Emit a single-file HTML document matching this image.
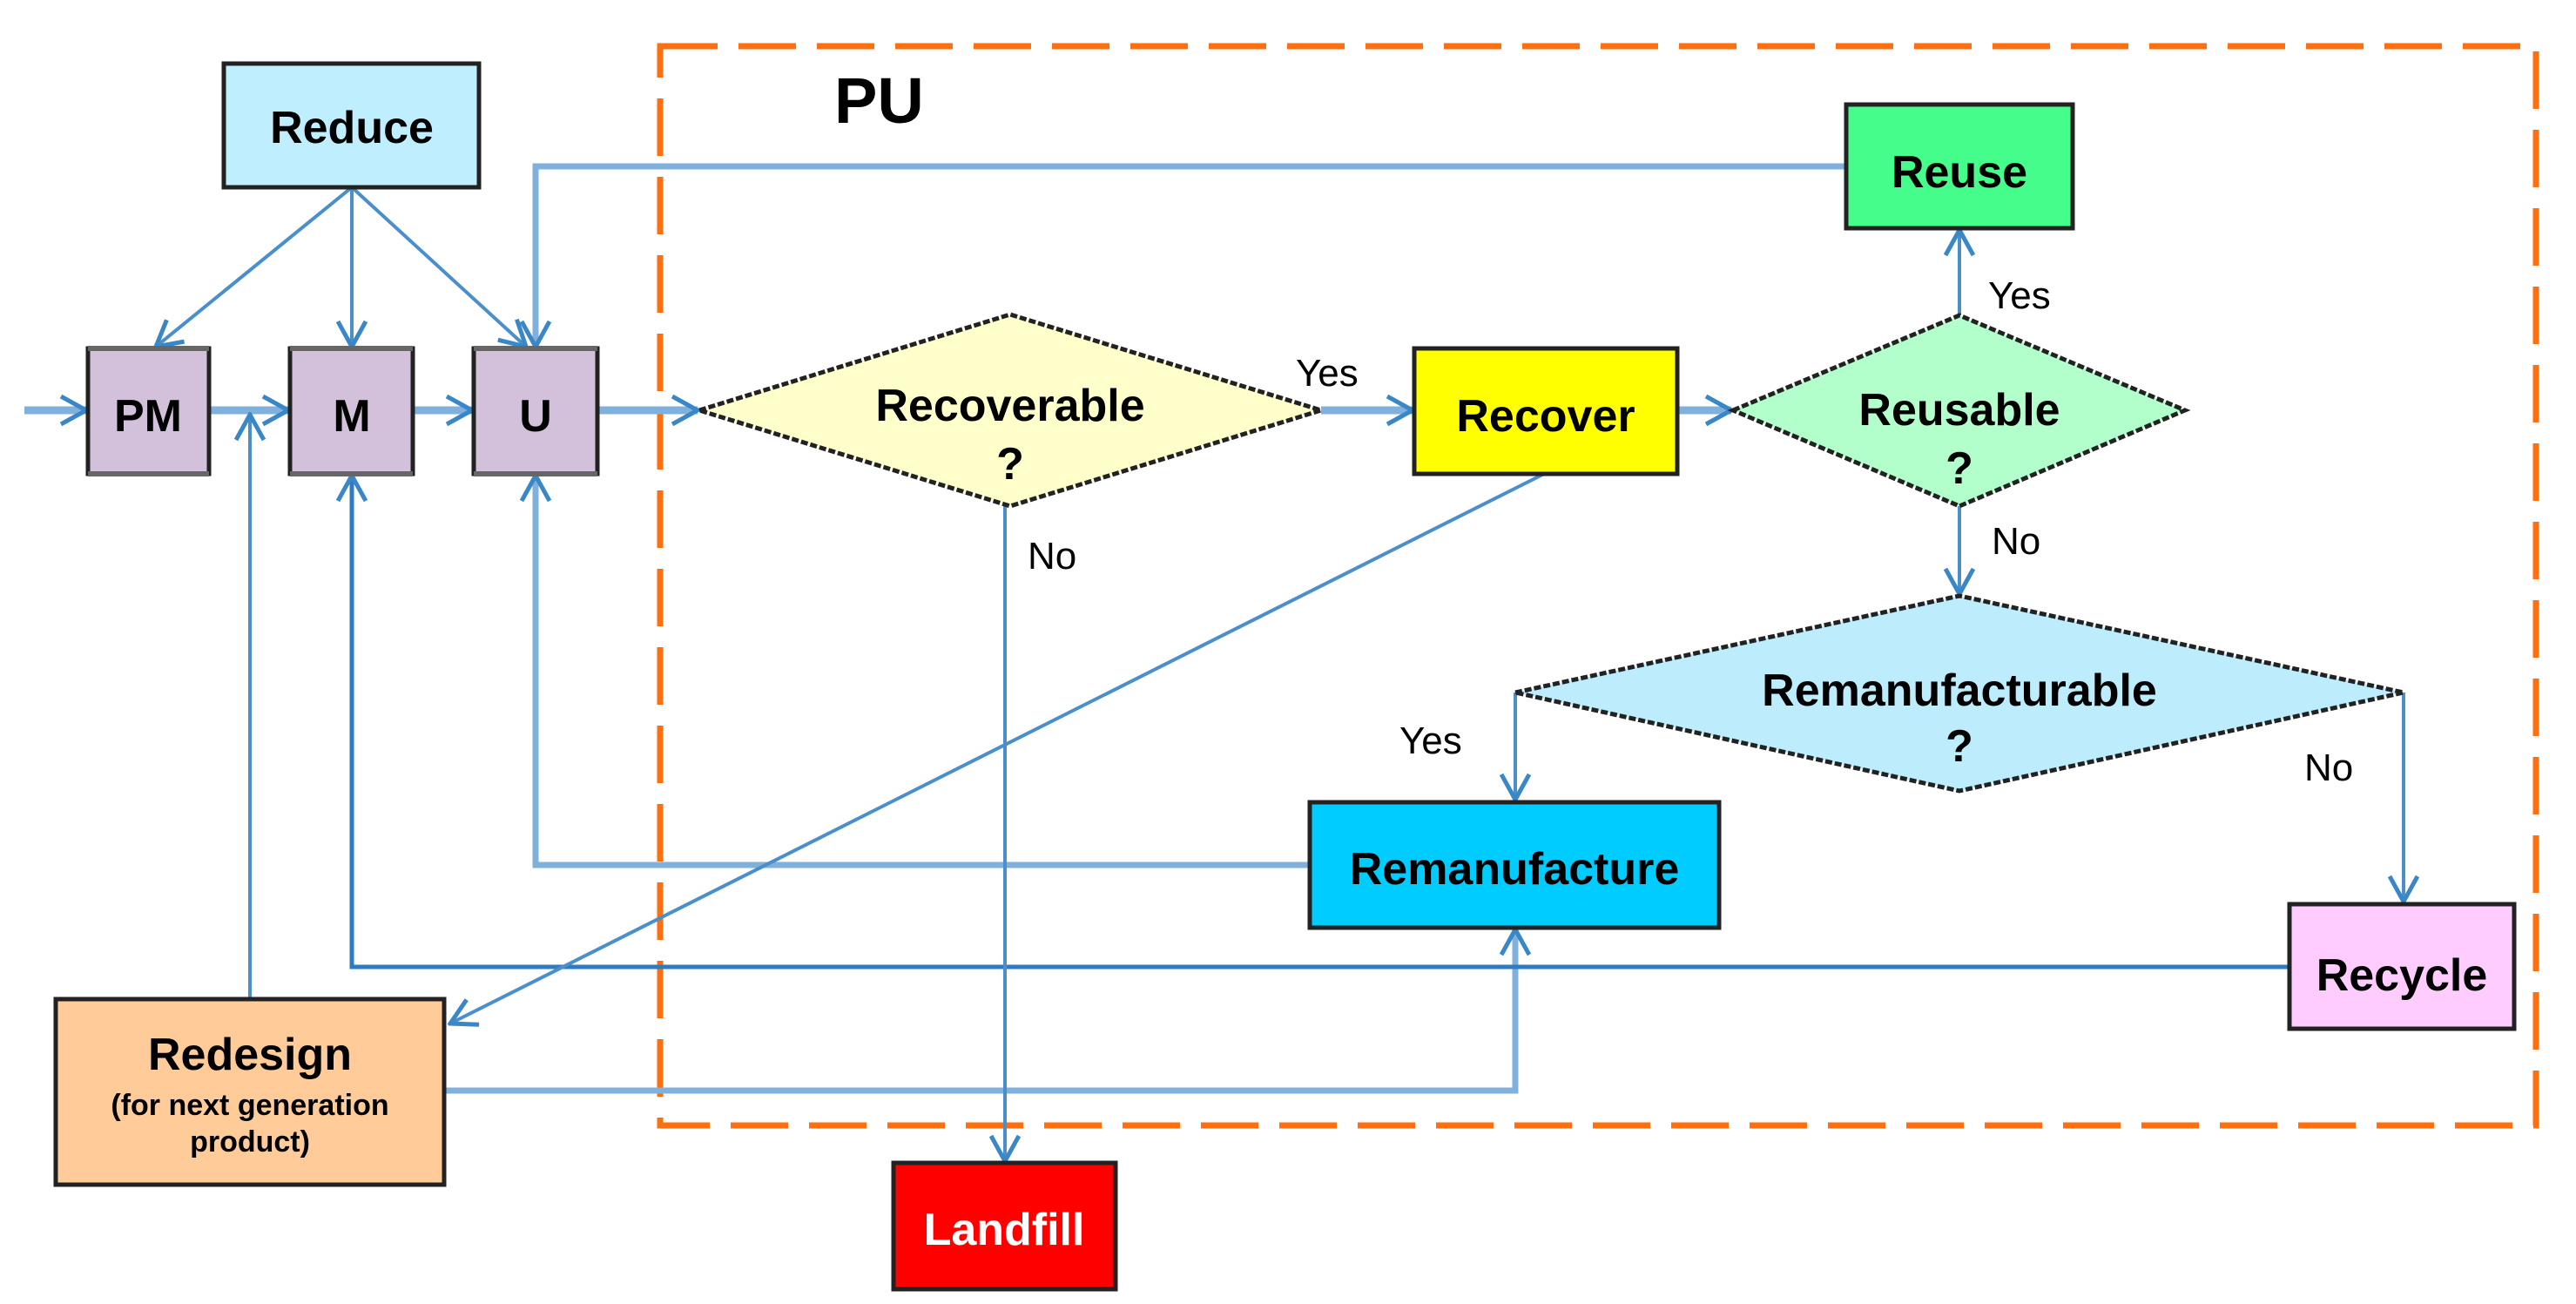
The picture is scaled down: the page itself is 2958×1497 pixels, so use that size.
<!DOCTYPE html>
<html><head><meta charset="utf-8"><style>
html,body{margin:0;padding:0;background:#fff;}
svg{display:block;}
text{font-family:"Liberation Sans",Arial,sans-serif;font-weight:bold;fill:#000;}
.lbl{font-weight:normal;font-size:44px;}
</style></head><body>
<svg width="2958" height="1497" viewBox="0 0 2958 1497" xmlns="http://www.w3.org/2000/svg">
<defs>
<marker id="a" markerUnits="userSpaceOnUse" markerWidth="34" markerHeight="36" viewBox="0 0 34 36" refX="31" refY="18" orient="auto">
<path d="M2,2 L31,18 L2,34" fill="none" stroke="#3a87c8" stroke-width="5"/>
</marker>
</defs>
<rect x="758" y="53" width="2154" height="1239" fill="none" stroke="#ff6f0f" stroke-width="7" stroke-dasharray="66 24"/>
<text x="958" y="141" font-size="74">PU</text>

<g fill="none" stroke-linejoin="miter">
<g stroke="#7fb1dc" stroke-width="9">
<line x1="28" y1="471" x2="99" y2="471" marker-end="url(#a)"/>
<line x1="240" y1="471" x2="331" y2="471" marker-end="url(#a)"/>
<line x1="474" y1="471" x2="542" y2="471" marker-end="url(#a)"/>
<line x1="686" y1="471" x2="801" y2="471" marker-end="url(#a)"/>
<line x1="1517" y1="471" x2="1622" y2="471" marker-end="url(#a)"/>
<line x1="1926" y1="471" x2="1988" y2="471" marker-end="url(#a)"/>
</g>
<g stroke="#7fb1dc" stroke-width="7">
<polyline points="2120,191 615,191 615,398" marker-end="url(#a)"/>
<polyline points="1504,993 615,993 615,546" marker-end="url(#a)"/>
<polyline points="510,1252 1740,1252 1740,1067" marker-end="url(#a)"/>
</g>
<polyline points="2629,1110 404,1110 404,546" stroke="#2f7bc0" stroke-width="5" marker-end="url(#a)"/>
<g stroke="#4a8fcc" stroke-width="4">
<line x1="404" y1="215" x2="179" y2="398" marker-end="url(#a)"/>
<line x1="404" y1="215" x2="404" y2="398" marker-end="url(#a)"/>
<line x1="404" y1="215" x2="604" y2="398" marker-end="url(#a)"/>
<line x1="287" y1="1147" x2="287" y2="476" marker-end="url(#a)"/>
<line x1="2250" y1="362" x2="2250" y2="264" marker-end="url(#a)"/>
<line x1="2250" y1="581" x2="2250" y2="682" marker-end="url(#a)"/>
<line x1="1154" y1="581" x2="1154" y2="1333" marker-end="url(#a)"/>
<line x1="1773" y1="544" x2="517" y2="1175" marker-end="url(#a)"/>
<line x1="1740" y1="795" x2="1740" y2="918" marker-end="url(#a)"/>
<line x1="2760" y1="795" x2="2760" y2="1035" marker-end="url(#a)"/>
</g>
</g>

<g stroke="#222" stroke-width="5">
<rect x="257" y="73" width="293" height="142" fill="#bfeeff"/>
<rect x="101" y="400" width="139" height="144" fill="#d3c1dc"/>
<rect x="333" y="400" width="141" height="144" fill="#d3c1dc"/>
<rect x="544" y="400" width="142" height="144" fill="#d3c1dc"/>
<polygon points="803,471 1160,361 1517,471 1160,581" fill="#ffffcc" stroke-dasharray="8 3"/>
<rect x="1624" y="400" width="302" height="144" fill="#ffff00"/>
<polygon points="1990,471 2250,362 2509,471 2250,581" fill="#b3ffcc" stroke-dasharray="8 3"/>
<rect x="2120" y="120" width="260" height="142" fill="#44fd8a"/>
<polygon points="1740,795 2250,684 2760,795 2250,908" fill="#bdedfd" stroke-dasharray="8 3"/>
<rect x="1504" y="921" width="470" height="144" fill="#00ccff"/>
<rect x="2629" y="1038" width="258" height="143" fill="#ffccff"/>
<rect x="64" y="1147" width="446" height="213" fill="#ffcc99"/>
<rect x="1026" y="1335" width="255" height="145" fill="#ff0000"/>
</g>
<g stroke="#666" stroke-width="6">
<line x1="101" y1="400" x2="240" y2="400"/><line x1="101" y1="544" x2="240" y2="544"/>
<line x1="333" y1="400" x2="474" y2="400"/><line x1="333" y1="544" x2="474" y2="544"/>
<line x1="544" y1="400" x2="686" y2="400"/><line x1="544" y1="544" x2="686" y2="544"/>
</g>

<g text-anchor="middle" font-size="52">
<text x="404" y="164">Reduce</text>
<text x="170" y="495">PM</text>
<text x="404" y="495">M</text>
<text x="615" y="495">U</text>
<text x="1160" y="483">Recoverable</text>
<text x="1160" y="550">?</text>
<text x="1775" y="495">Recover</text>
<text x="2250" y="215">Reuse</text>
<text x="2250" y="488">Reusable</text>
<text x="2250" y="555">?</text>
<text x="2250" y="810">Remanufacturable</text>
<text x="2250" y="874">?</text>
<text x="1739" y="1015">Remanufacture</text>
<text x="2758" y="1137">Recycle</text>
<text x="287" y="1228">Redesign</text>
<text x="287" y="1280" font-size="34">(for next generation</text>
<text x="287" y="1322" font-size="34">product)</text>
<text x="1153" y="1429" style="fill:#fff">Landfill</text>
</g>
<text class="lbl" x="1488" y="443">Yes</text>
<text class="lbl" x="1180" y="653">No</text>
<text class="lbl" x="2283" y="354">Yes</text>
<text class="lbl" x="2287" y="636">No</text>
<text class="lbl" x="1607" y="865">Yes</text>
<text class="lbl" x="2646" y="896">No</text>
</svg>
</body></html>
